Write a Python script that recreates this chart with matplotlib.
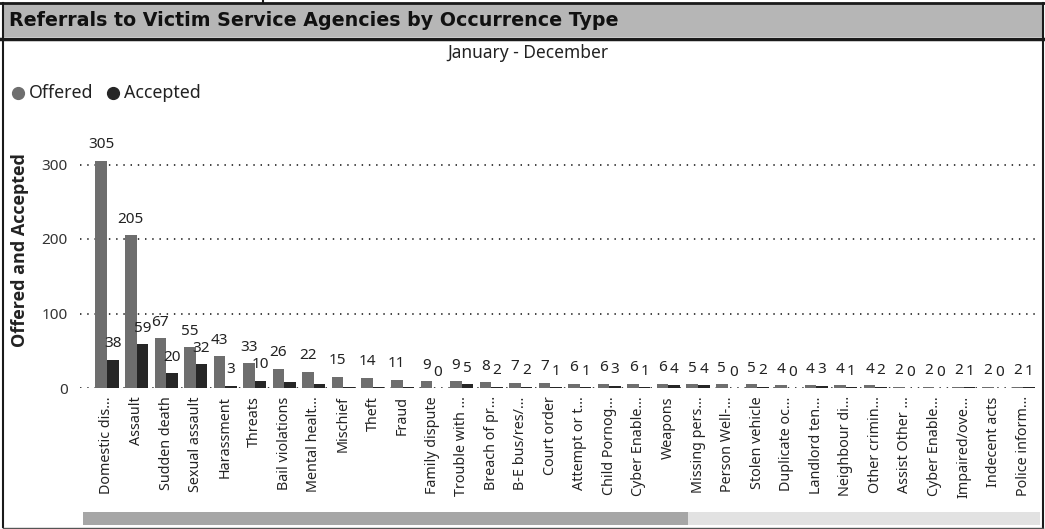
import matplotlib
matplotlib.use("Agg")
import matplotlib.pyplot as plt
from matplotlib.patches import Rectangle
from matplotlib.lines import Line2D

categories = ["Domestic dis...", "Assault", "Sudden death", "Sexual assault", "Harassment",
              "Threats", "Bail violations", "Mental healt...", "Mischief", "Theft", "Fraud",
              "Family dispute", "Trouble with ...", "Breach of pr...", "B-E bus/res/...",
              "Court order", "Attempt or t...", "Child Pornog...", "Cyber Enable...", "Weapons",
              "Missing pers...", "Person Well-...", "Stolen vehicle", "Duplicate oc...",
              "Landlord ten...", "Neighbour di...", "Other crimin...", "Assist Other ...",
              "Cyber Enable...", "Impaired/ove...", "Indecent acts", "Police inform..."]
offered = [305, 205, 67, 55, 43, 33, 26, 22, 15, 14, 11, 9, 9, 8, 7, 7, 6, 6, 6, 6,
           5, 5, 5, 4, 4, 4, 4, 2, 2, 2, 2, 2]
accepted = [38, 59, 20, 32, 3, 10, 8, 6, 2, 2, 1, 0, 5, 2, 2, 1, 1, 3, 1, 4,
            4, 0, 2, 0, 3, 1, 2, 0, 0, 1, 0, 1]
# accepted data labels hidden in the original (overlap)
accepted_label_shown = [True] * 6 + [False] * 5 + [True] * 21
yticks = [0, 100, 200, 300]

W, H = 1045, 529
fig = plt.figure(figsize=(W / 100, H / 100), dpi=100)
fig.patch.set_facecolor("white")
FONT = "Noto Sans"
TXT = "#222222"

def fx(px):
    return px / W

def fy(py):
    return 1 - py / H

# Frame & title band
fig.add_artist(Rectangle((fx(3), fy(37)), fx(1042) - fx(3), fy(3) - fy(37),
                         transform=fig.transFigure, facecolor="#b6b6b6", edgecolor="none"))
fig.add_artist(Line2D([fx(0), fx(1045)], [fy(3), fy(3)], transform=fig.transFigure, color="#1a1a1a", lw=2))
fig.add_artist(Line2D([fx(0), fx(1045)], [fy(38.5), fy(38.5)], transform=fig.transFigure, color="#1a1a1a", lw=2.5))
fig.add_artist(Line2D([fx(263), fx(263)], [fy(0), fy(3)], transform=fig.transFigure, color="#1a1a1a", lw=1.5))
fig.add_artist(Line2D([fx(3), fx(3)], [fy(3), fy(527)], transform=fig.transFigure, color="#1a1a1a", lw=1.5))
fig.add_artist(Line2D([fx(1043), fx(1043)], [fy(3), fy(527)], transform=fig.transFigure, color="#1a1a1a", lw=1.5))
fig.add_artist(Line2D([fx(3), fx(1043)], [fy(527.5), fy(527.5)], transform=fig.transFigure, color="#555555", lw=1))

fig.text(fx(9), fy(20), "Referrals to Victim Service Agencies by Occurrence Type",
         fontsize=13.7, fontweight="bold", family="DejaVu Sans", color="#111111", va="center", ha="left")
fig.text(fx(528), fy(53), "January - December", fontsize=12.5, family=FONT, color=TXT,
         va="center", ha="center")

# Legend
fig.add_artist(Line2D([fx(18)], [fy(93)], transform=fig.transFigure, marker="o", ms=8.5,
                      color="#6e6e6e", lw=0))
fig.text(fx(29), fy(93), "Offered", fontsize=12.8, family=FONT, color=TXT, va="center", ha="left")
fig.add_artist(Line2D([fx(113)], [fy(93)], transform=fig.transFigure, marker="o", ms=8.5,
                      color="#262626", lw=0))
fig.text(fx(124), fy(93), "Accepted", fontsize=12.8, family=FONT, color=TXT, va="center", ha="left")

# Scrollbar
fig.add_artist(Rectangle((fx(688), fy(525)), fx(1040) - fx(688), fy(512) - fy(525),
                         transform=fig.transFigure, facecolor="#e2e2e2", edgecolor="none"))
fig.add_artist(Rectangle((fx(83), fy(525)), fx(688) - fx(83), fy(512) - fy(525),
                         transform=fig.transFigure, facecolor="#a6a6a6", edgecolor="none"))

# Axes
ax_left, ax_right, ax_top, ax_bottom = 80, 1040, 135, 388
ax = fig.add_axes([fx(ax_left), fy(ax_bottom), fx(ax_right) - fx(ax_left), fy(ax_top) - fy(ax_bottom)])
ymax = (ax_bottom - ax_top) / 0.745
ax.set_ylim(0, ymax)
ax.set_xlim(-(107 - ax_left) / 29.55, (ax_right - 107) / 29.55)

x = list(range(len(categories)))
bw = 0.39
ax.bar([i - bw / 2 for i in x], offered, width=bw, color="#6e6e6e", zorder=3)
ax.bar([i + bw / 2 for i in x], accepted, width=bw, color="#262626", zorder=3)

for i in x:
    ax.annotate(str(offered[i]), (i - bw / 2, offered[i]), xytext=(0, 6), textcoords="offset points",
                ha="center", va="bottom", fontsize=11, family=FONT, color=TXT)
    if accepted_label_shown[i]:
        ax.annotate(str(accepted[i]), (i + bw / 2, accepted[i]), xytext=(0, 6), textcoords="offset points",
                    ha="center", va="bottom", fontsize=11, family=FONT, color=TXT)

ax.set_yticks(yticks)
ax.set_yticklabels([str(v) for v in yticks], fontsize=11, family=FONT, color="#333333")
ax.yaxis.grid(True, linestyle=(0, (0.8, 3.2)), color="#333333", lw=1.3, zorder=0)
ax.set_xticks(x)
ax.set_xticklabels(categories, rotation=90, fontsize=10.3, family=FONT, color=TXT, va="top", ha="center")
ax.tick_params(axis="both", length=0)
ax.tick_params(axis="y", pad=9)
ax.tick_params(axis="x", pad=6)
for s in ax.spines.values():
    s.set_visible(False)
ax.set_facecolor("none")

fig.text(fx(20), fy(250), "Offered and Accepted", rotation=90, fontsize=13, family="Open Sans",
         fontweight="bold", color=TXT, va="center", ha="center")

fig.savefig("out.png", dpi=100)
